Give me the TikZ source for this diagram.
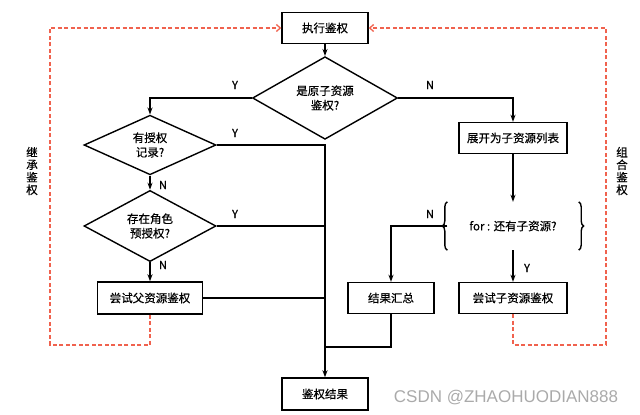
\documentclass[tikz,border=0pt]{standalone}
\usepackage{fontspec}
\setmainfont{Noto Sans CJK SC}[FakeBold=0.4]
\newfontfamily\wmfont{Liberation Sans}
\usetikzlibrary{arrows.meta,decorations.pathreplacing,shapes.geometric}
\definecolor{dashred}{RGB}{240,98,78}
\definecolor{wmgray}{RGB}{170,170,170}
\begin{document}
\begin{tikzpicture}[x=1pt,y=1pt,
  every node/.style={font=\fontsize{11.5}{14.5}\selectfont},
  boxnode/.style={draw,line width=1.4pt,inner sep=0pt,minimum height=31pt,align=center},
  dia/.style={draw,line width=1.4pt,inner sep=0pt,align=center,
    shape=diamond},
  conn/.style={line width=1.4pt},
  arr/.style={line width=1.4pt,-{Stealth[length=7pt,width=5pt]}},
  reddash/.style={draw=dashred,line width=1.3pt,dash pattern=on 4pt off 2.5pt},
  lbl/.style={font=\fontsize{11}{13}\selectfont},
  vlbl/.style={align=center,font=\fontsize{11.5}{12.5}\selectfont}
]
\useasboundingbox (0,0) rectangle (640,-415);

\node[boxnode,minimum width=86pt] (exec) at (325,-28) {执行鉴权};
\node[dia,minimum width=145pt,minimum height=47pt] (d1) at (325,-98) {是原子资源\\鉴权?};
\node[dia,minimum width=132pt,minimum height=46pt] (d2) at (150,-145) {有授权\\记录?};
\node[dia,minimum width=132pt,minimum height=47pt] (d3) at (150,-226) {存在角色\\预授权?};
\node[boxnode,minimum width=105pt,minimum height=32pt] (parent) at (150,-298) {尝试父资源鉴权};
\node[boxnode,minimum width=108pt] (expand) at (513,-138) {展开为子资源列表};
\node[inner sep=0pt,minimum width=131pt,minimum height=48pt] (loop) at (513,-226) {for : 还有子资源?};
\node[boxnode,minimum width=86pt] (sum) at (391,-298) {结果汇总};
\node[boxnode,minimum width=108pt] (child) at (513,-298) {尝试子资源鉴权};
\node[boxnode,minimum width=86pt,minimum height=32pt] (res) at (325,-394) {鉴权结果};

% braces
\draw[conn,decorate,decoration={brace,amplitude=5pt}] (loop.south west) -- (loop.north west);
\draw[conn,decorate,decoration={brace,amplitude=5pt}] (loop.north east) -- (loop.south east);

% connectors
\draw[arr] (exec.south) -- (d1.north);
\draw[arr] (d1.west) -| (d2.north);
\draw[arr] (d1.east) -| (expand.north);
\draw[arr] (d2.south) -- (d3.north);
\draw[arr] (d3.south) -- (parent.north);
\draw[arr] (d2.east) -| (res.north);
\draw[conn] (d3.east) -- (d3.east -| res.north);
\draw[conn] (parent.east) -- (parent.east -| res.north);
\draw[arr] (expand.south) -- (loop.north);
\draw[arr] (loop.west) -| (sum.north);
\draw[arr] (loop.south) -- (child.north);
\coordinate (j) at (325,-347);
\draw[conn] (sum.south) |- (j);

% red dashed loops
\coordinate (lb) at (50,-345);
\coordinate (rb) at (606,-345);
\draw[reddash,-{Straight Barb[length=4pt,width=7pt]}] (parent.south) |- (lb) |- (exec.west);
\draw[reddash,-{Straight Barb[length=4pt,width=7pt]}] (child.south) |- (rb) |- (exec.east);

% labels
\node[lbl] (y1) at (235,-85) {Y};
\node[lbl] (n1) at (430,-85) {N};
\node[lbl] (y2) at (235,-133) {Y};
\node[lbl] (n2) at (163,-185) {N};
\node[lbl] (y3) at (235,-214) {Y};
\node[lbl] (n3) at (163,-265) {N};
\node[lbl] (n4) at (430,-214) {N};
\node[lbl] (y4) at (527,-268) {Y};
\node[vlbl] (inh) at (32,-171) {继\\承\\鉴\\权};
\node[vlbl] (comb) at (622,-171) {组\\合\\鉴\\权};

\node[font=\wmfont\fontsize{17}{19}\selectfont,text=wmgray] (wm) at (506,-398) {CSDN @ZHAOHUODIAN888};
\end{tikzpicture}
\end{document}
